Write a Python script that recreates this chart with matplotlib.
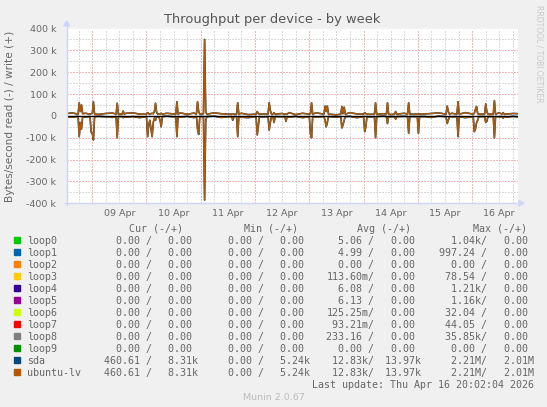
import numpy as np
import matplotlib
matplotlib.use("Agg")
import matplotlib.pyplot as plt
from matplotlib.patches import Rectangle, Polygon
from matplotlib.lines import Line2D

W, H = 547, 407

# ---------------- data ----------------
# time axis in days, 0 = 08 Apr 00:00
x_start, x_end = 0.53, 8.84
day_labels = ["09 Apr", "10 Apr", "11 Apr", "12 Apr", "13 Apr", "14 Apr", "15 Apr", "16 Apr"]

# baseline samples every 3 h (k bytes/s)
base_step = 0.125
base_write = [9, 14, 6, 12, 15, 7, 11, 13, 5, 12, 14, 8, 10, 15, 6, 12, 9, 14,
              7, 13, 11, 5, 14, 10, 8, 15, 12, 6, 13, 9, 14, 7, 11, 15, 6, 12,
              10, 14, 8, 13, 5, 11, 15, 9, 12, 7, 14, 10, 6, 13, 12, 8, 15, 9,
              11, 14, 6, 12, 10, 15, 7, 13, 9, 12, 14, 8, 11, 10]
base_read = [3, 6, 1, 5, 8, 2, 4, 7, 1, 6, 3, 8, 2, 5, 7, 1, 4, 6,
             2, 8, 3, 5, 1, 7, 4, 2, 6, 8, 3, 5, 1, 7, 4, 6, 2, 8,
             3, 5, 7, 1, 6, 4, 2, 8, 3, 5, 7, 1, 4, 6, 2, 8, 5, 3,
             7, 1, 6, 4, 2, 8, 3, 5, 1, 7, 4, 6, 2, 5]

# bursts: start day, then 30-min samples (k bytes/s)
burst_start = [0.74, 0.96, 1.44, 1.55, 2.00, 2.54, 2.92, 3.05, 3.57, 3.66,
               4.02, 4.24, 4.33, 4.55, 5.00, 5.27, 5.58, 6.00, 6.20, 6.42,
               6.57, 6.81, 6.99, 7.52, 7.72, 8.02, 8.23, 8.39, 8.55]
burst_write = [
    [8, 60, 20, 50, 10],
    [8, 10, 12, 65, 8],
    [8, 58, 8],
    [8, 22, 8],
    [8, 15, 10, 8, 10, 12, 10, 20, 58, 15, 8, 10, 8, 12, 8],
    [8, 65, 8],
    [8, 65, 20, 8],
    [10, 350, 20, 8],
    [8, 8, 8],
    [8, 60, 8],
    [8, 20, 10, 8],
    [8, 60, 25, 8],
    [8, 15, 8],
    [8, 8, 8],
    [8, 10, 60, 8],
    [8, 45, 20, 45, 8],
    [8, 43, 10, 40, 8],
    [8, 15, 10, 8],
    [8, 60, 8],
    [8, 60, 8],
    [8, 20, 8],
    [8, 60, 8],
    [8, 10, 8],
    [8, 45, 20, 8],
    [8, 65, 8],
    [8, 12, 30, 43, 10, 8],
    [8, 55, 20, 8],
    [8, 70, 8],
    [8, 15, 8],
]
burst_read = [
    [2, 95, 30, 60, 5],
    [3, 75, 80, 110, 3],
    [3, 100, 3],
    [3, 8, 3],
    [3, 95, 40, 20, 60, 95, 30, 10, 20, 5, 3, 5, 20, 50, 3],
    [3, 95, 3],
    [3, 60, 85, 3],
    [3, 385, 20, 3],
    [3, 20, 3],
    [3, 95, 3],
    [3, 87, 45, 3],
    [3, 65, 30, 3],
    [3, 30, 3],
    [3, 25, 3],
    [3, 80, 100, 3],
    [3, 20, 50, 30, 3],
    [3, 55, 40, 20, 3],
    [3, 72, 50, 3],
    [3, 100, 3],
    [3, 35, 3],
    [3, 15, 3],
    [3, 80, 3],
    [3, 80, 3],
    [3, 35, 20, 3],
    [3, 95, 3],
    [3, 72, 60, 30, 20, 3],
    [3, 30, 25, 3],
    [3, 100, 3],
    [3, 10, 3],
]

# legend table
names = ["loop0", "loop1", "loop2", "loop3", "loop4", "loop5", "loop6",
         "loop7", "loop8", "loop9", "sda", "ubuntu-lv"]
colors = ["#00CC00", "#0066B3", "#FF8000", "#FFCC00", "#330099", "#990099",
          "#CCFF00", "#FF0000", "#808080", "#008F00", "#00487D", "#B35A00"]
cur_r = [0, 0, 0, 0, 0, 0, 0, 0, 0, 0, 460.61, 460.61]
cur_w = [0, 0, 0, 0, 0, 0, 0, 0, 0, 0, 8310, 8310]
min_r = [0, 0, 0, 0, 0, 0, 0, 0, 0, 0, 0, 0]
min_w = [0, 0, 0, 0, 0, 0, 0, 0, 0, 0, 5240, 5240]
avg_r = [5.06, 4.99, 0, 0.11360, 6.08, 6.13, 0.12525, 0.09321, 233.16, 0, 12830, 12830]
avg_w = [0, 0, 0, 0, 0, 0, 0, 0, 0, 0, 13970, 13970]
max_r = [1040, 997.24, 0, 78.54, 1210, 1160, 32.04, 44.05, 35850, 0, 2210000, 2210000]
max_w = [0, 0, 0, 0, 0, 0, 0, 0, 0, 0, 2010000, 2010000]

# ---------------- assemble series ----------------
base_t = x_start - 0.03 + base_step * np.arange(len(base_write))


def build(base_vals, bursts):
    spans = [(s, s + (len(v) - 1) / 48.0) for s, v in zip(burst_start, bursts)]
    ts, vs = [], []
    for t, v in zip(base_t, base_vals):
        if not any(a - 0.03 <= t <= b + 0.03 for a, b in spans):
            ts.append(t)
            vs.append(v)
    for s, vals in zip(burst_start, bursts):
        for j, v in enumerate(vals):
            ts.append(s + j / 48.0)
            vs.append(v)
    o = np.argsort(ts)
    return np.array(ts)[o], np.array(vs, dtype=float)[o] * 1000.0


tw, vw = build(base_write, burst_write)
tr, vr = build(base_read, burst_read)

# ---------------- figure ----------------
FONT = "#666666"
fig = plt.figure(figsize=(W / 100, H / 100), dpi=100, facecolor="#F0F0F0")


def fx(x):
    return x / W


def fy(y):
    return 1 - y / H


L, R, T, B = 66.7, 517.7, 28.5, 203.3
ax = fig.add_axes([fx(L), fy(B), (R - L) / W, (B - T) / H])
ax.set_facecolor("white")
ax.set_xlim(x_start, x_end)
ax.set_ylim(-400000, 400000)
for s in ax.spines.values():
    s.set_visible(False)

# grid (dotted)
dots = (0, (1.4, 1.4))
gkw = dict(lw=0.72, ls=dots, zorder=0, antialiased=False)
MINOR = "#dadada"
MAJOR = "#f7b4b4"
for d in np.arange(0.75, 8.84, 0.25):
    if abs(d - round(d)) > 1e-6:
        ax.axvline(d, color=MINOR, **gkw)
for d in range(1, 9):
    ax.axvline(d, color=MAJOR, **gkw)
for v in range(-350000, 400000, 100000):
    ax.axhline(v, color=MINOR, **gkw)
for v in range(-300000, 400001, 100000):
    ax.axhline(v, color=MAJOR, **gkw)

# data
ax.plot(tw, vw, color=colors[10], lw=1.2, zorder=2)
ax.plot(tr, -vr, color=colors[10], lw=1.2, zorder=2)
ax.plot(tw, vw, color=colors[11], lw=1.0, zorder=3)
ax.plot(tr, -vr, color=colors[11], lw=1.0, zorder=3)
ax.axhline(0, color="black", lw=1.0, zorder=4)

# ticks
ax.set_xticks([d + 0.5 for d in range(1, 9)])
ax.set_xticklabels(day_labels, fontsize=6.8, color=FONT)
yt = list(range(-400000, 400001, 100000))
ax.set_yticks(yt)
ax.set_yticklabels([("%d k" % (v // 1000)) if v != 0 else "0" for v in yt],
                   fontsize=6.8, color=FONT)
ax.tick_params(axis="both", length=0)
ax.tick_params(axis="y", pad=7.5)
ax.tick_params(axis="x", pad=4)

# axis lines with arrows
AX = "#CFD6F8"
fig.add_artist(Line2D([fx(L), fx(L)], [fy(B + 2), fy(25)], color=AX, lw=1))
fig.add_artist(Line2D([fx(L - 2), fx(521)], [fy(B), fy(B)], color=AX, lw=1))
fig.add_artist(Polygon([[fx(L - 3), fy(26)], [fx(L + 3), fy(26)], [fx(L), fy(21)]],
                       closed=True, color=AX, transform=fig.transFigure))
fig.add_artist(Polygon([[fx(519), fy(B - 3)], [fx(519), fy(B + 3)], [fx(524), fy(B)]],
                       closed=True, color=AX, transform=fig.transFigure))

# titles
fig.text(fx(272.5), fy(20), "Throughput per device - by week", ha="center",
         va="center", fontsize=9.4, color="#555555")
fig.text(fx(10), fy(116), "Bytes/second read (-) / write (+)", rotation=90,
         ha="center", va="center", fontsize=7.6, color=FONT)
fig.text(fx(539), fy(5), "RRDTOOL / TOBI OETIKER", rotation=270, ha="center",
         va="top", fontsize=5.5, color="#C8C8C8")

# legend
MONO = "DejaVu Sans Mono"
LF = 7.2
units = {-1: "m", 0: " ", 1: "k", 2: "M"}


def si(v):
    if v == 0:
        return "%6.2f " % 0.0
    e = int(np.floor(np.log10(abs(v)) / 3))
    e = max(-1, min(2, e))
    return "%6.2f%s" % (v / 1000.0 ** e, units[e])


def row_base(y):
    return fy(y + 3.6)


for lab, x in zip(["Cur (-/+)", "Min (-/+)", "Avg (-/+)", "Max (-/+)"],
                  [129.3, 243.7, 357.3, 472.7]):
    fig.text(fx(x), row_base(228), lab, family=MONO, fontsize=LF, color=FONT,
             ha="left", va="baseline")

colsA = [104.0, 216.3, 326.5, 439.4]
colsB = [156.5, 268.5, 379.0, 491.5]
for i, name in enumerate(names):
    y = 240 + 12 * i
    fig.add_artist(Rectangle((fx(14), fy(y + 3)), 6 / W, 6 / H, color=colors[i],
                             transform=fig.transFigure))
    fig.text(fx(26.7), row_base(y), name, family=MONO, fontsize=LF, color=FONT,
             ha="left", va="baseline")
    pairs = [(cur_r[i], cur_w[i]), (min_r[i], min_w[i]),
             (avg_r[i], avg_w[i]), (max_r[i], max_w[i])]
    for (a, b), xa, xb in zip(pairs, colsA, colsB):
        fig.text(fx(xa), row_base(y), si(a) + "/", family=MONO, fontsize=LF,
                 color=FONT, ha="left", va="baseline")
        fig.text(fx(xb), row_base(y), si(b), family=MONO, fontsize=LF,
                 color=FONT, ha="left", va="baseline")

fig.text(fx(533.5), row_base(384), "Last update: Thu Apr 16 20:02:04 2026",
         family=MONO, fontsize=LF, color=FONT, ha="right", va="baseline")
fig.text(fx(273.5), fy(398), "Munin 2.0.67", ha="center", va="center",
         fontsize=6.8, color="#BBBBBB")

fig.savefig("out.png", dpi=100, facecolor=fig.get_facecolor())
